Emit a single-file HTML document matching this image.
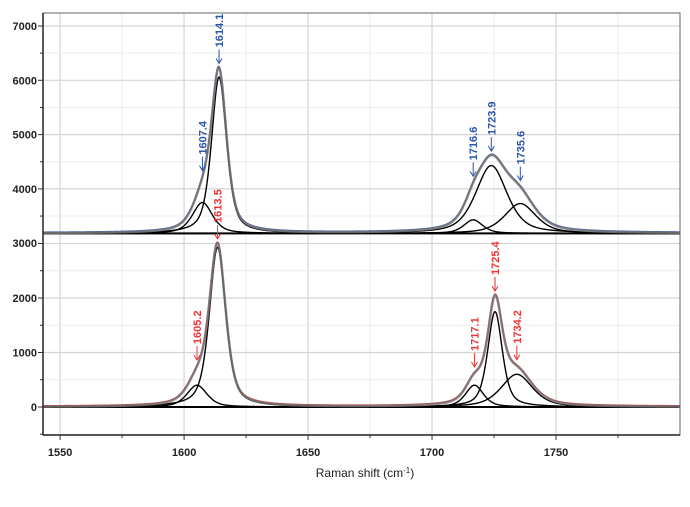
<!DOCTYPE html>
<html><head><meta charset="utf-8"><style>
body{margin:0;background:#fff;}
svg text{font-family:"Liberation Sans",sans-serif;}
</style></head><body>
<svg id="chart" width="690" height="502" xmlns="http://www.w3.org/2000/svg">
<g id="grid"></g>
<g id="curves"></g>
<g id="annots"></g>
<g id="axes"></g>
<text x="365" y="477" text-anchor="middle" font-size="12" fill="#222">Raman shift (cm<tspan font-size="8" dy="-4">-1</tspan><tspan dy="4">)</tspan></text>
</svg>
<script>
const xTicks=[1550,1600,1650,1700,1750];
const yTicksTop=[3000,4000,5000,6000,7000];
const yTicksBot=[0,1000,2000,3000];
const topBaseline=3180;
const topCenters=[1607.4,1614.1,1716.6,1723.9,1735.6];
const topAmps=[570,2880,250,1250,550];
const topWidths=[4.8,3.6,4.5,7.5,7.5];
const botBaseline=0;
const botCenters=[1605.2,1613.5,1717.1,1725.4,1734.2];
const botAmps=[400,2930,400,1750,600];
const botWidths=[4.8,3.9,4.3,3.5,7.5];
const topLabels=["1607.4","1614.1","1716.6","1723.9","1735.6"];
const botLabels=["1605.2","1613.5","1717.1","1725.4","1734.2"];

const NS="http://www.w3.org/2000/svg";
const L=43,R=680,T=13,MID=236,B=435;
const X0=1543.1,X1=1800;
const sx=v=>L+(v-X0)/(X1-X0)*(R-L);
const syT=v=>26+(7000-v)*0.0543;
const syB=v=>407-v*0.0545;
function mk(tag,attrs,parent){const e=document.createElementNS(NS,tag);for(const k in attrs)e.setAttribute(k,attrs[k]);parent.appendChild(e);return e;}
const grid=document.getElementById('grid'),axes=document.getElementById('axes'),curves=document.getElementById('curves'),ann=document.getElementById('annots');
for(let v=1550;v<1800;v+=25){const maj=v%50===0;
 const g=mk('line',{x1:sx(v),x2:sx(v),y1:T,y2:B,stroke:maj?'#d4d4d4':'#ececec','stroke-width':maj?1.2:1},grid);
 
 mk('line',{x1:sx(v),x2:sx(v),y1:B,y2:B+(maj?5:3),stroke:'#333'},axes);}
for(let v=3000;v<=7200;v+=500){const y=syT(v);if(y>MID||y<T)continue;
 const g=mk('line',{x1:L,x2:R,y1:y,y2:y,stroke:v%1000===0?'#d4d4d4':'#ececec','stroke-width':v%1000===0?1.2:1},grid);
 
 mk('line',{x1:L-(v%1000===0?5:3),x2:L,y1:y,y2:y,stroke:'#333'},axes);}
for(let v=-500;v<=3000;v+=500){const y=syB(v);
 const g=mk('line',{x1:L,x2:R,y1:y,y2:y,stroke:v%1000===0?'#d4d4d4':'#ececec','stroke-width':v%1000===0?1.2:1},grid);
 
 mk('line',{x1:L-(v%1000===0?5:3),x2:L,y1:y,y2:y,stroke:'#333'},axes);}
const fr=mk('rect',{x:L,y:T,width:R-L,height:B-T,fill:'none',stroke:'#666','stroke-width':1},axes);

const ax=mk('line',{x1:L,x2:L,y1:T,y2:B,stroke:'#222','stroke-width':1.5},axes);

const bx=mk('line',{x1:L,x2:R,y1:B,y2:B,stroke:'#222','stroke-width':1.5},axes);

xTicks.forEach(v=>{const t=mk('text',{x:sx(v),y:456,'text-anchor':'middle','font-size':11,'font-weight':'bold',fill:'#222'},axes);t.textContent=v;
 });
yTicksTop.forEach(v=>{const t=mk('text',{x:L-6,y:syT(v)+4,'text-anchor':'end','font-size':11,'font-weight':'bold',fill:'#222'},axes);t.textContent=v;
 });
yTicksBot.filter(v=>v<3000).forEach(v=>{const t=mk('text',{x:L-6,y:syB(v)+4,'text-anchor':'end','font-size':11,'font-weight':'bold',fill:'#222'},axes);t.textContent=v;
 });
// pseudo-Voigt profile
const lor=(x,c,a,w)=>{const u=(x-c)/w;return a*(0.55/(1+u*u)+0.45*Math.exp(-Math.LN2*u*u));};
function path(fn,sy){let d='';for(let x=X0;x<=X1;x+=0.25){d+=(d?'L':'M')+sx(x).toFixed(2)+','+sy(fn(x)).toFixed(2);}return d;}
function panel(base,cs,as,ws,sy,col,name){
 const sum=x=>base+cs.reduce((s,c,i)=>s+lor(x,c,as[i],ws[i]),0);
 const bl=mk('line',{x1:L,x2:R,y1:sy(base),y2:sy(base),stroke:'#000','stroke-width':2},curves);
 
 const m=mk('path',{d:path(x=>sum(x)+(base?15:15),sy),fill:'none',stroke:col,'stroke-width':1.5},curves);
 
 cs.forEach((c,i)=>{const p=mk('path',{d:path(x=>base+lor(x,c,as[i],ws[i]),sy),fill:'none',stroke:'#000','stroke-width':1.4},curves);
  });
 const f=mk('path',{d:path(sum,sy),fill:'none',stroke:'#777','stroke-width':2.5,'stroke-opacity':0.85},curves);
 
 return sum;}
const sT=panel(topBaseline,topCenters,topAmps,topWidths,syT,'#2d55a8','top');
const sB=panel(botBaseline,botCenters,botAmps,botWidths,syB,'#e03030','bottom');
function annot(c,label,tipY,col){
 const x=sx(c);
 const g=mk('g',{},ann);
 mk('line',{x1:x,x2:x,y1:tipY-14,y2:tipY,stroke:col,'stroke-width':1},g);
 mk('path',{d:`M${x-3},${tipY-5}L${x},${tipY}L${x+3},${tipY-5}`,fill:'none',stroke:col,'stroke-width':1},g);
 const t=mk('text',{x:0,y:0,transform:`translate(${x+4},${tipY-16}) rotate(-90)`,'font-size':11,'font-weight':'bold',fill:col},g);t.textContent=label;}
const blue='#2d55a8',red='#e8383a';
topCenters.forEach((c,i)=>annot(c,topLabels[i],syT(sT(c))-(i===1||i===3?4:6),blue));
botCenters.forEach((c,i)=>annot(c,botLabels[i],syB(sB(c))-(i===1||i===3?4:6),red));
</script>
</body></html>
